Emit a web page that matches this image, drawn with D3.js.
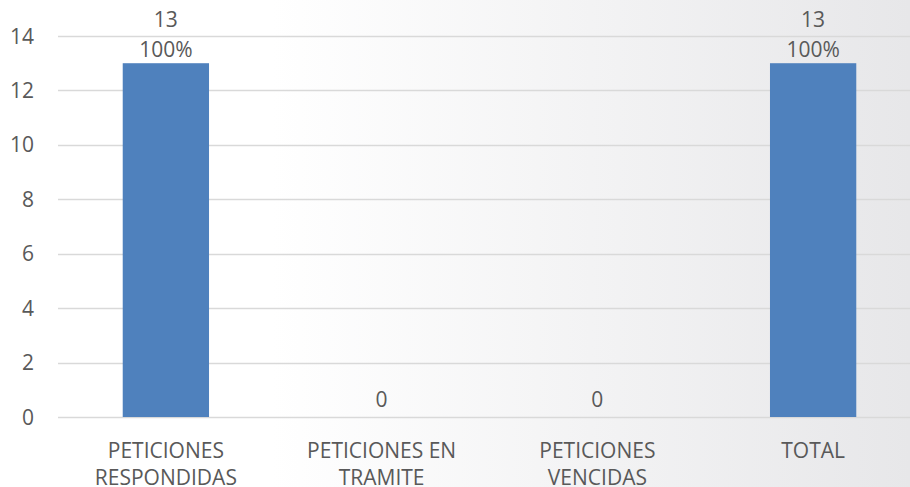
<!DOCTYPE html>
<html>
<head>
<meta charset="utf-8">
<script src="https://cdn.jsdelivr.net/npm/d3@7"></script>
<style>
  body { margin: 0; overflow: hidden; }
</style>
</head>
<body>
<div id="viz"></div>
<script>
// data
const categories = [["PETICIONES", "RESPONDIDAS"], ["PETICIONES EN", "TRAMITE"], ["PETICIONES", "VENCIDAS"], ["TOTAL"]];
const values = [13, 0, 0, 13];
const pctLabels = ["100%", "", "", "100%"];
const yTicks = [0, 2, 4, 6, 8, 10, 12, 14];

const width = 910, height = 487;
const textColor = "#595959";
const font = "'Open Sans', sans-serif";
const fontSize = "21px";

const svg = d3.select("#viz").append("svg")
  .attr("width", width)
  .attr("height", height);

const grad = svg.append("defs").append("linearGradient")
  .attr("id", "bg")
  .attr("x1", "0%").attr("x2", "100%").attr("y1", "0%").attr("y2", "0%");
grad.append("stop").attr("offset", "0%").attr("stop-color", "#ffffff");
grad.append("stop").attr("offset", "30%").attr("stop-color", "#ffffff");
grad.append("stop").attr("offset", "100%").attr("stop-color", "#e7e7e9");

svg.append("rect")
  .attr("width", width)
  .attr("height", height)
  .attr("fill", "url(#bg)");

const xScale = d3.scaleBand()
  .domain(d3.range(categories.length))
  .range([58, 921])
  .paddingInner(0.6)
  .paddingOuter(0.3);

const yScale = d3.scaleLinear()
  .domain([0, 14])
  .range([417, 36]);

// gridlines
svg.append("g")
  .selectAll("line")
  .data(yTicks)
  .join("line")
  .attr("x1", 58)
  .attr("x2", 921)
  .attr("y1", d => Math.round(yScale(d)) + 0.5)
  .attr("y2", d => Math.round(yScale(d)) + 0.5)
  .attr("stroke", "#d9d9d9")
  .attr("stroke-width", 1.5);

// y tick labels
svg.append("g")
  .selectAll("text")
  .data(yTicks)
  .join("text")
  .text(d => d)
  .attr("x", 34)
  .attr("y", d => yScale(d))
  .attr("dy", "0.36em")
  .attr("text-anchor", "end")
  .attr("font-family", font)
  .attr("font-size", fontSize)
  .attr("fill", textColor);

// bars
svg.append("g")
  .selectAll("rect")
  .data(values)
  .join("rect")
  .attr("x", (d, i) => xScale(i))
  .attr("y", d => yScale(d))
  .attr("width", xScale.bandwidth())
  .attr("height", d => yScale(0) - yScale(d))
  .attr("fill", "#4f81bd");

// value labels
svg.append("g")
  .selectAll("text")
  .data(values)
  .join("text")
  .attr("text-anchor", "middle")
  .attr("font-family", font)
  .attr("font-size", fontSize)
  .attr("fill", textColor)
  .each(function (d, i) {
    const t = d3.select(this);
    const cx = xScale(i) + xScale.bandwidth() / 2;
    const lines = pctLabels[i] ? [String(d), pctLabels[i]] : [String(d)];
    const baseY = yScale(d) - (lines.length > 1 ? 6 : 10) - (lines.length - 1) * 30;
    lines.forEach((s, k) => {
      t.append("tspan").attr("x", cx).attr("y", baseY + k * 30).text(s);
    });
  });

// category labels
svg.append("g")
  .selectAll("text")
  .data(categories)
  .join("text")
  .attr("text-anchor", "middle")
  .attr("font-family", font)
  .attr("font-size", fontSize)
  .attr("fill", textColor)
  .each(function (d, i) {
    const cx = xScale(i) + xScale.bandwidth() / 2;
    d3.select(this).selectAll("tspan")
      .data(d)
      .join("tspan")
      .attr("x", cx)
      .attr("y", (s, k) => 458 + k * 27)
      .text(s => s);
  });
</script>
</body>
</html>
